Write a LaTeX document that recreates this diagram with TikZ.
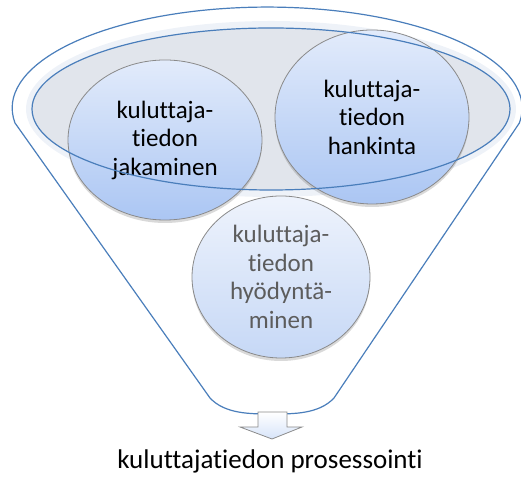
\documentclass[tikz,border=0pt]{standalone}
\usepackage{fontspec}
\setmainfont[Ligatures={NoCommon}]{Carlito}
\usetikzlibrary{shapes.geometric,shadows}
\definecolor{funnelblue}{HTML}{4A7EBB}
\definecolor{ellgray}{HTML}{E1E5EC}
\definecolor{halo}{HTML}{EEF2F8}
\definecolor{circtop}{HTML}{E2EBFB}
\definecolor{circbot}{HTML}{ABC6F3}
\definecolor{lighttop}{HTML}{EEF3FC}
\definecolor{lightbot}{HTML}{C6D8F6}
\definecolor{circline}{HTML}{8A8A8A}
\definecolor{greytext}{HTML}{5C5C5C}
\tikzset{
  bubble/.style={ellipse, inner sep=0pt, draw=circline, line width=0.8pt,
    top color=circtop, bottom color=circbot,
    drop shadow={shadow xshift=0pt, shadow yshift=-3pt, opacity=0.25, fill=black!60},
    align=center, font=\fontsize{25}{28.5}\selectfont},
  lightbubble/.style={bubble, top color=lighttop, bottom color=lightbot, text=greytext},
  funnelline/.style={draw=funnelblue, line width=1.2pt, line join=round},
}
\begin{document}
\begin{tikzpicture}[x=1pt,y=1pt]
\useasboundingbox (0,0) rectangle (521,478);
% halo and gray disc
\node (halo) [ellipse, inner sep=0pt, minimum width=490pt, minimum height=176pt, fill=halo] at (271,369) {};
\node (disc) [ellipse, inner sep=0pt, minimum width=478pt, minimum height=162pt, fill=ellgray] at (271,369) {};
% circles
\node (use) [lightbubble, minimum width=178pt, minimum height=162pt] at (281,201)
  {kuluttaja-\\tiedon\\hyödyntä-\\minen};
\node (share) [bubble, minimum width=194pt, minimum height=160pt] at (165,338)
  {kuluttaja-\\tiedon\\jakaminen};
\node (acq) [bubble, minimum width=194pt, minimum height=174pt] at (372,361)
  {kuluttaja-\\tiedon\\hankinta};
% blue ring of the disc
\node (ring) [ellipse, inner sep=0pt, minimum width=478pt, minimum height=162pt, funnelline] at (271,369) {};
% funnel
\coordinate (fl) at (15,355);
\coordinate (fbl) at (210,80);
\coordinate (fbr) at (334,80);
\coordinate (fb) at (272,64);
\draw[funnelline] (fl) arc[start angle=188.5, end angle=-8.5, x radius=255, y radius=101]
  -- (fbr) .. controls (319,64) and (294,64) .. (fb)
  .. controls (250,64) and (225,64) .. (fbl) -- cycle;
% arrow
\draw[draw=circline, line width=0.8pt, top color=white, bottom color=circtop!80!circbot, line join=miter]
  (258,66) -- (287,66) -- (287,51) -- (302,51) -- (272,39) -- (240,51) -- (258,51) -- cycle;
\coordinate (tip) at (272,39);
\node (label) [font=\fontsize{27}{32}\selectfont, anchor=base] at (270,9) {kuluttajatiedon prosessointi};
\end{tikzpicture}
\end{document}
